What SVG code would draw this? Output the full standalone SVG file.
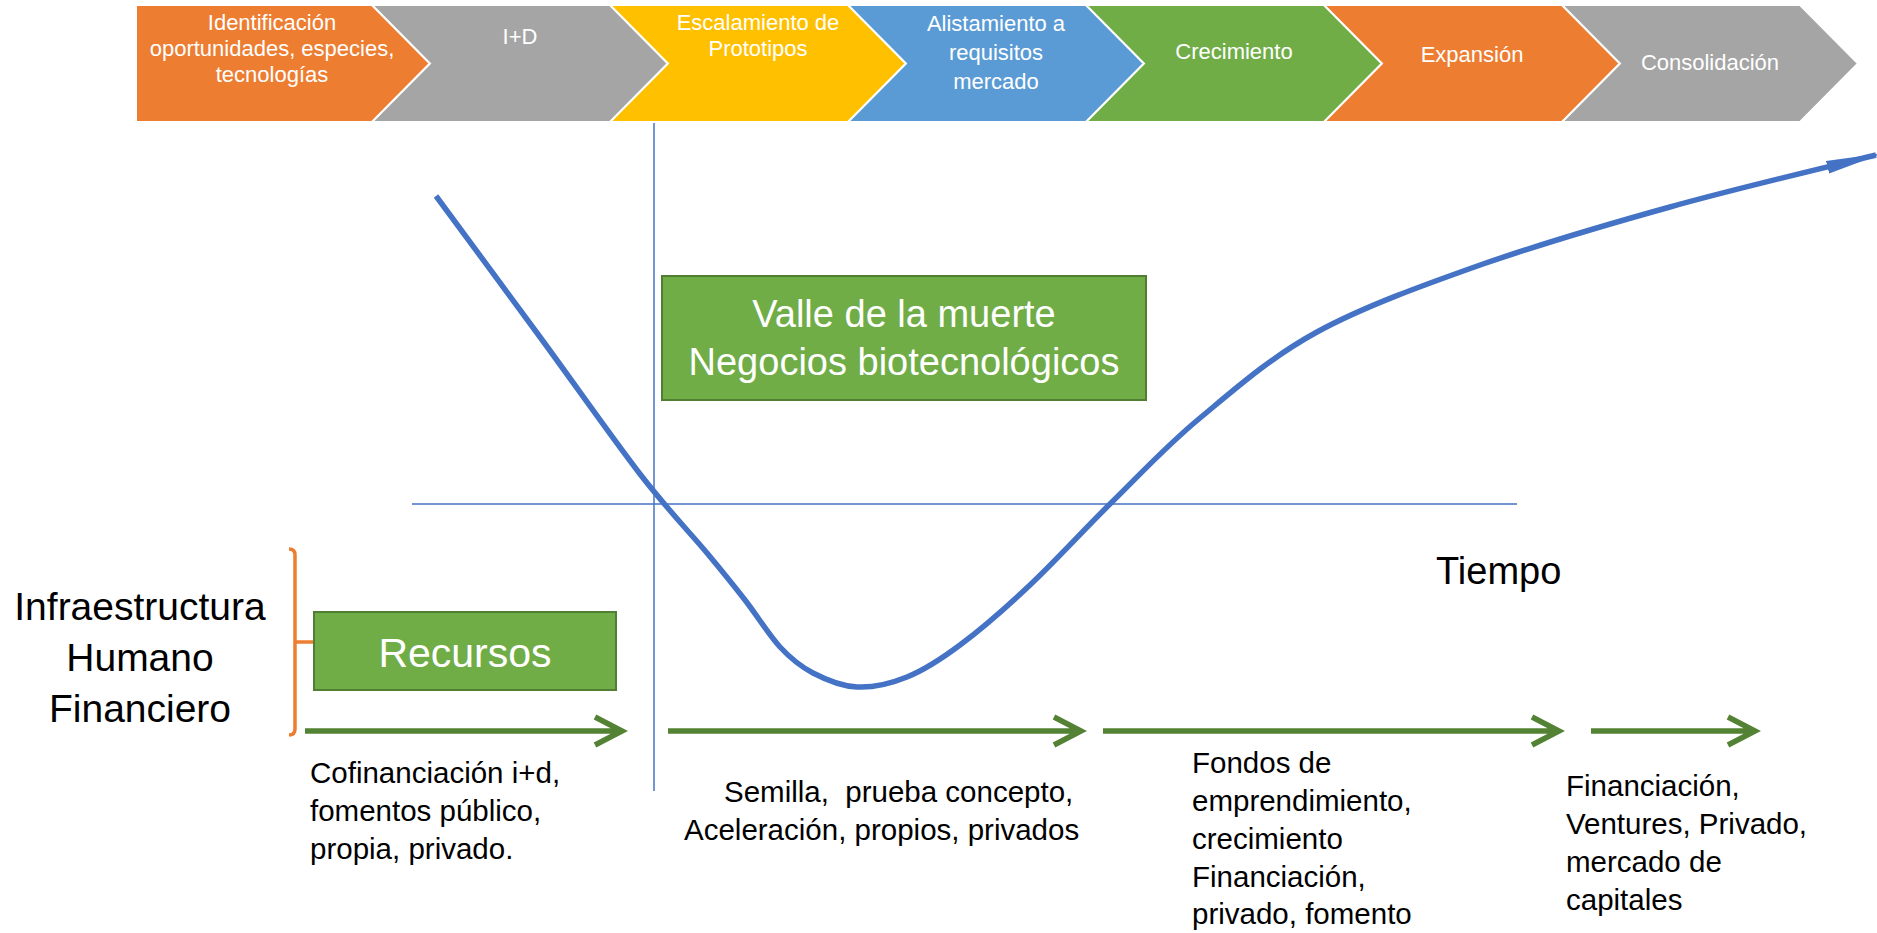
<svg xmlns="http://www.w3.org/2000/svg" width="1877" height="933" viewBox="0 0 1877 933">
<style>
.chev{stroke:#FFFFFF;stroke-width:2;stroke-linejoin:miter}
.ct{font-family:"Liberation Sans",Arial,sans-serif;font-size:22px;fill:#FFFFFF;text-anchor:middle}
.bt{font-family:"Liberation Sans",Arial,sans-serif;font-size:29.5px;fill:#000000;white-space:pre}
.big{font-family:"Liberation Sans",Arial,sans-serif;fill:#000000}
.box{fill:#70AD47;stroke:#507E32;stroke-width:2}
.wt{font-family:"Liberation Sans",Arial,sans-serif;fill:#FFFFFF;text-anchor:middle}
.thin{stroke:#4472C4;stroke-width:1.5;fill:none}
.garrow{stroke:#548235;stroke-width:5.5;fill:none;stroke-linejoin:miter;stroke-linecap:butt}
</style>
<defs>
<marker id="curveHead" markerUnits="userSpaceOnUse" viewBox="0 -7 58 14" markerWidth="58" markerHeight="14" refX="50" refY="0" orient="auto">
<path d="M0,-6.5 L58,0 L0,6.5 Z" fill="#4472C4"/>
</marker>
</defs>
<rect width="1877" height="933" fill="#FFFFFF"/>

<g id="stage-identificacion">
<polygon class="chev" fill="#ED7D31" points="136,5 372,5 430,63.5 372,122 136,122"/>
<text class="ct" x="272" y="30">Identificación</text>
<text class="ct" x="272" y="56">oportunidades, especies,</text>
<text class="ct" x="272" y="82">tecnologías</text>
</g>
<g id="stage-id">
<polygon class="chev" fill="#A5A5A5" points="372,5 610,5 668,63.5 610,122 372,122 430,63.5"/>
<text class="ct" x="520" y="44">I+D</text>
</g>
<g id="stage-escalamiento">
<polygon class="chev" fill="#FFC000" points="610,5 848,5 906,63.5 848,122 610,122 668,63.5"/>
<text class="ct" x="758" y="30">Escalamiento de</text>
<text class="ct" x="758" y="56">Prototipos</text>
</g>
<g id="stage-alistamiento">
<polygon class="chev" fill="#5B9BD5" points="848,5 1086,5 1144,63.5 1086,122 848,122 906,63.5"/>
<text class="ct" x="996" y="31">Alistamiento a</text>
<text class="ct" x="996" y="60">requisitos</text>
<text class="ct" x="996" y="89">mercado</text>
</g>
<g id="stage-crecimiento">
<polygon class="chev" fill="#70AD47" points="1086,5 1324,5 1382,63.5 1324,122 1086,122 1144,63.5"/>
<text class="ct" x="1234" y="59">Crecimiento</text>
</g>
<g id="stage-expansion">
<polygon class="chev" fill="#ED7D31" points="1324,5 1562,5 1620,63.5 1562,122 1324,122 1382,63.5"/>
<text class="ct" x="1472" y="62">Expansión</text>
</g>
<g id="stage-consolidacion">
<polygon class="chev" fill="#A5A5A5" points="1562,5 1800,5 1858,63.5 1800,122 1562,122 1620,63.5"/>
<text class="ct" x="1710" y="70">Consolidación</text>
</g>

<g id="axes">
<line class="thin" x1="654" y1="123" x2="654" y2="791"/>
<line class="thin" x1="412" y1="504" x2="1517" y2="504"/>
</g>

<g id="valle">
<rect class="box" x="662" y="276" width="484" height="124"/>
<text class="wt" x="904" y="327" font-size="38">Valle de la muerte</text>
<text class="wt" x="904" y="375" font-size="38">Negocios biotecnológicos</text>
</g>

<g id="curve">
<path d="M436,196 C453.3,219.5 506,290.7 540,337 C574,383.3 612.2,438 640,474 C667.8,510 689.5,532 707,553 C724.5,574 732.8,584.3 745,600 C757.2,615.7 768.7,634.8 780,647 C791.3,659.2 800.2,666.3 813,673 C825.8,679.7 841.3,686.3 857,687 C872.7,687.7 889.8,684 907,677 C924.2,670 939.5,660.3 960,645 C980.5,629.7 1004.7,608.8 1030,585 C1055.3,561.2 1083.7,529.8 1112,502 C1140.3,474.2 1165.8,446.3 1200,418 C1234.2,389.7 1269.8,357.7 1317,332 C1364.2,306.3 1424.2,284.8 1483,264 C1541.8,243.8 1604.5,225.2 1670,207 C1735.5,188.5 1841.7,163.7 1876,155" fill="none" stroke="#4472C4" stroke-width="5.5" marker-end="url(#curveHead)"/>
</g>

<g id="tiempo">
<text class="big" x="1436" y="584" font-size="38">Tiempo</text>
</g>

<g id="recursos-label">
<text class="big" x="140" y="620" font-size="39" text-anchor="middle">Infraestructura</text>
<text class="big" x="140" y="671" font-size="39" text-anchor="middle">Humano</text>
<text class="big" x="140" y="722" font-size="39" text-anchor="middle">Financiero</text>
</g>

<g id="bracket">
<path d="M289,549 Q295,549 295,555 L295,729 Q295,735 289,735 M295,642 L314,642" fill="none" stroke="#ED7D31" stroke-width="3.5"/>
</g>

<g id="recursos">
<rect class="box" x="314" y="612" width="302" height="78"/>
<text class="wt" x="465" y="667" font-size="41">Recursos</text>
</g>

<g id="connectors">
<path class="garrow" d="M305,731 L622,731 M595,717 L622,731 L595,745"/>
<path class="garrow" d="M668,731 L1081,731 M1054,717 L1081,731 L1054,745"/>
<path class="garrow" d="M1103,731 L1559,731 M1532,717 L1559,731 L1532,745"/>
<path class="garrow" d="M1591,731 L1755,731 M1728,717 L1755,731 L1728,745"/>
</g>

<g id="fase1-texto">
<text class="bt" x="310" y="783">Cofinanciación i+d,</text>
<text class="bt" x="310" y="821">fomentos público,</text>
<text class="bt" x="310" y="859">propia, privado.</text>
</g>
<g id="fase2-texto">
<text class="bt" x="724" y="802" xml:space="preserve">Semilla,  prueba concepto,</text>
<text class="bt" x="684" y="840">Aceleración, propios, privados</text>
</g>
<g id="fase3-texto">
<text class="bt" x="1192" y="773">Fondos de</text>
<text class="bt" x="1192" y="811">emprendimiento,</text>
<text class="bt" x="1192" y="849">crecimiento</text>
<text class="bt" x="1192" y="887">Financiación,</text>
<text class="bt" x="1192" y="924">privado, fomento</text>
</g>
<g id="fase4-texto">
<text class="bt" x="1566" y="796">Financiación,</text>
<text class="bt" x="1566" y="834">Ventures, Privado,</text>
<text class="bt" x="1566" y="872">mercado de</text>
<text class="bt" x="1566" y="910">capitales</text>
</g>
</svg>
